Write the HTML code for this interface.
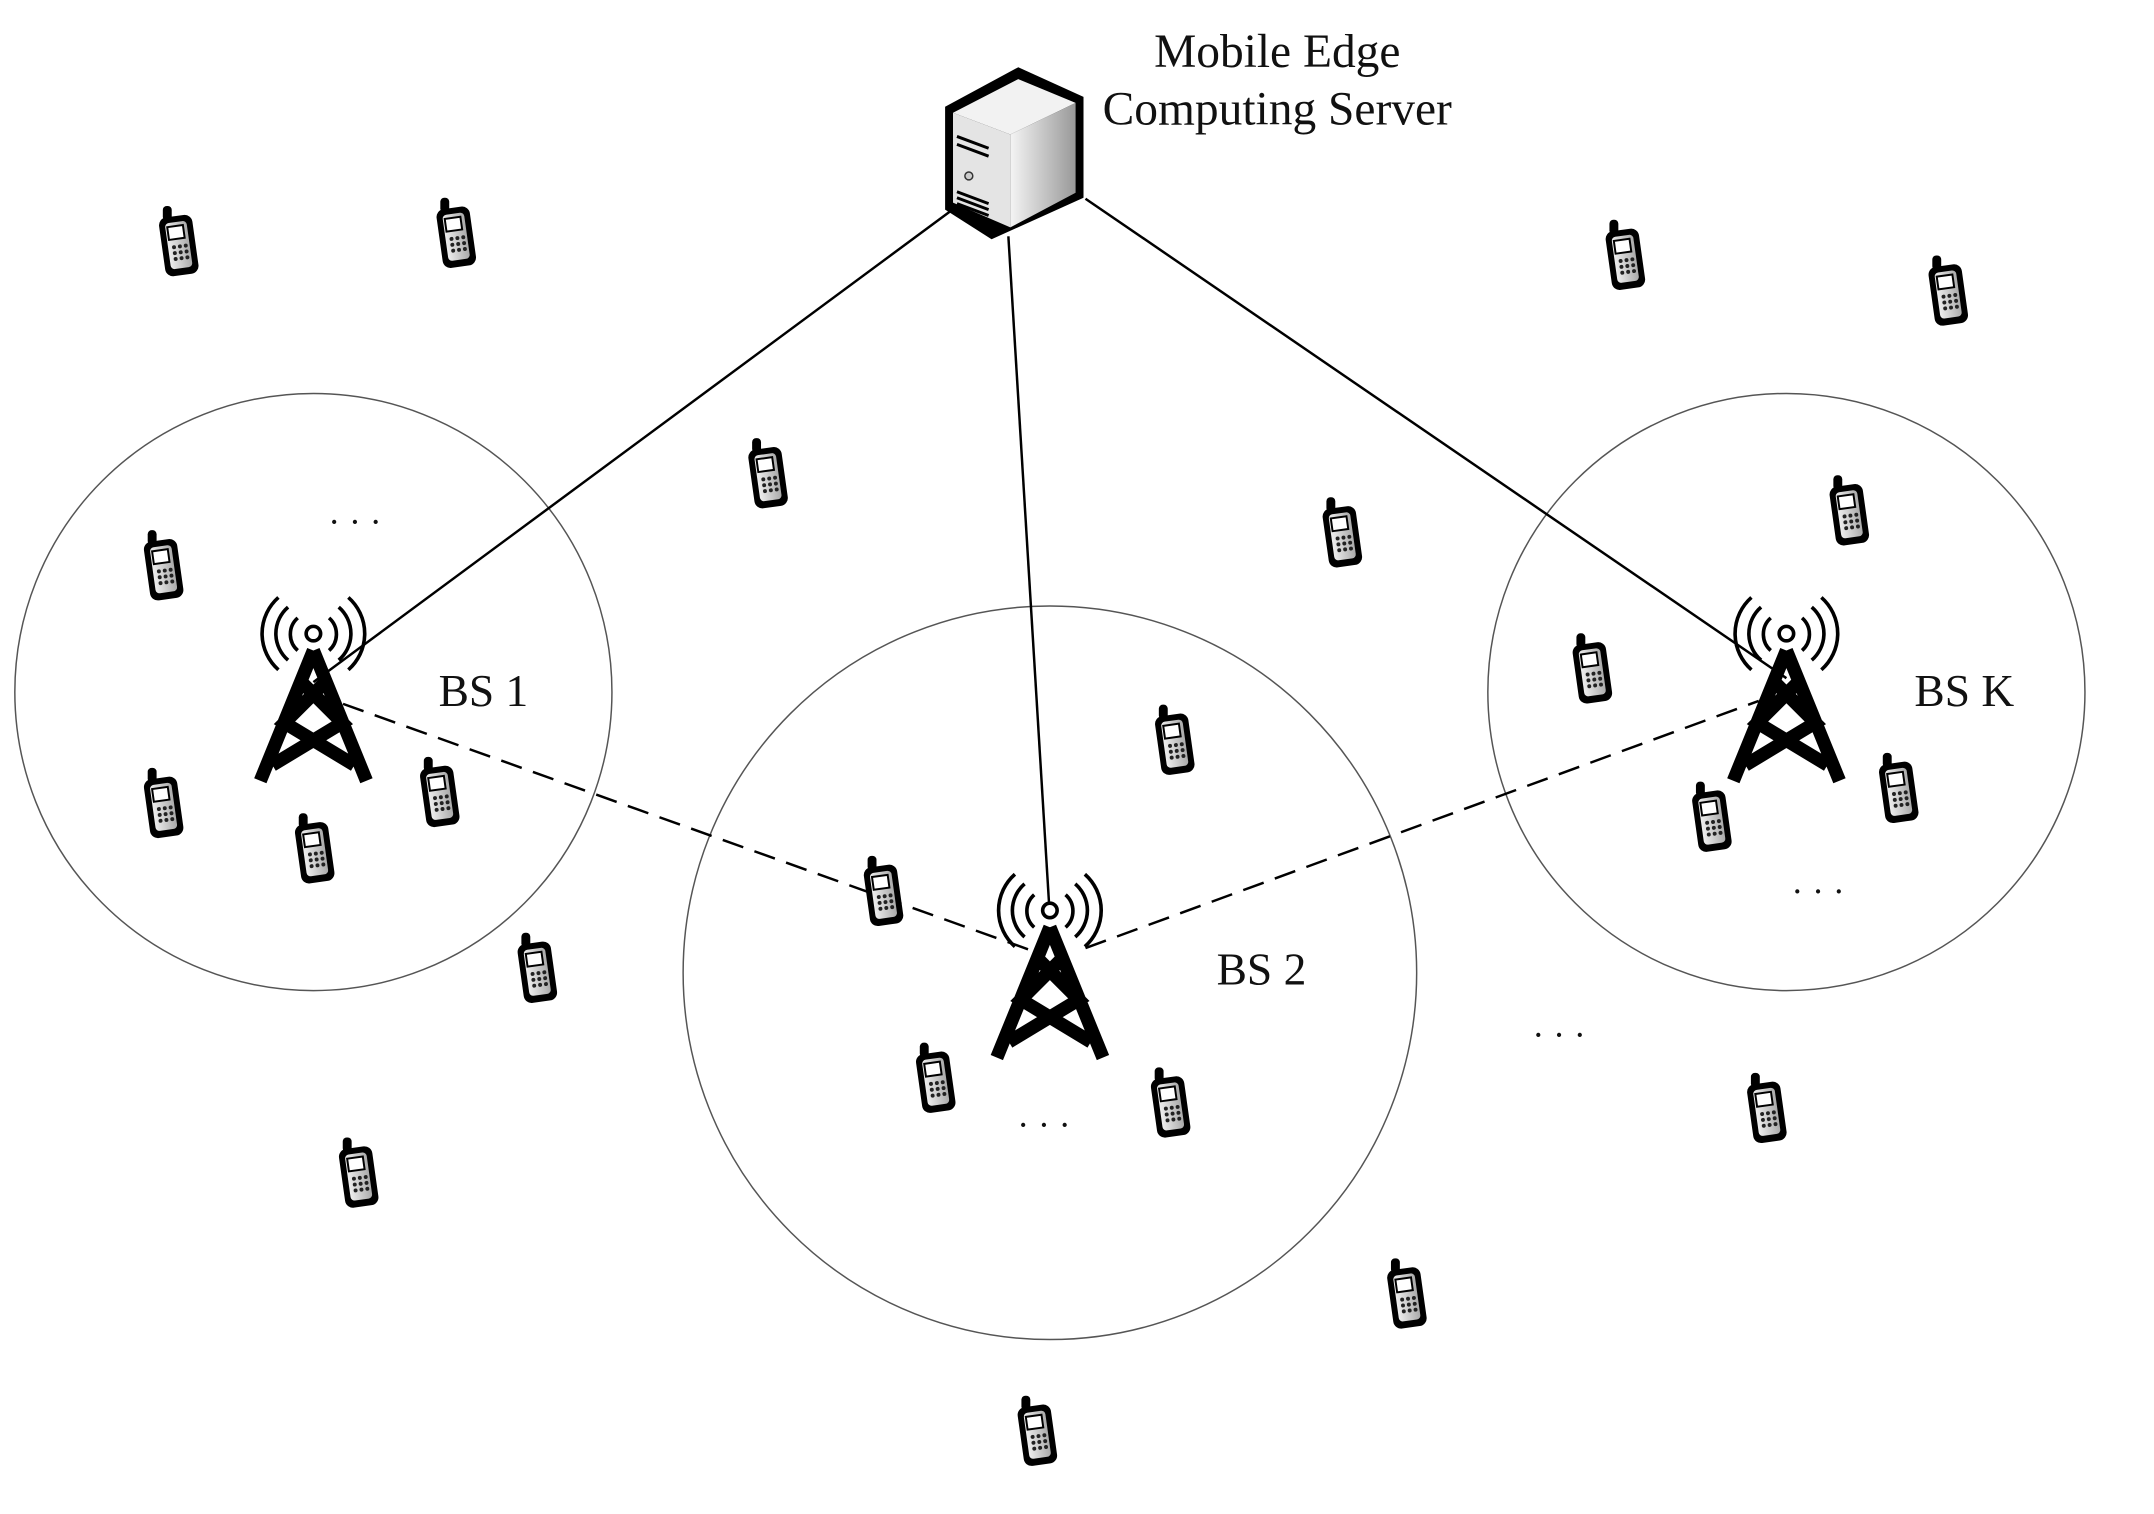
<!DOCTYPE html>
<html><head><meta charset="utf-8"><style>
html,body{margin:0;padding:0;background:#fff}
svg{display:block}
text{font-family:"Liberation Serif",serif;fill:#111}
</style></head><body>
<svg width="2154" height="1514" viewBox="0 0 2154 1514">
<defs>
<linearGradient id="pg" x1="0" x2="1"><stop offset="0" stop-color="#eee"/><stop offset="1" stop-color="#aaa"/></linearGradient>
<linearGradient id="sg" x1="0" x2="1"><stop offset="0" stop-color="#f4f4f4"/><stop offset="1" stop-color="#999"/></linearGradient>
<g id="phone">
<rect x="-16" y="-39" width="9" height="15" rx="4" fill="#000"/>
<rect x="-17" y="-29" width="34" height="60" rx="8" fill="#000" transform="rotate(-8)"/>
<rect x="-11" y="-23" width="22" height="47" rx="4" fill="url(#pg)" transform="rotate(-8)"/>
<rect x="-9" y="-19" width="16" height="13" fill="#fff" stroke="#000" stroke-width="2" transform="rotate(-8)"/>
<g fill="#222" transform="rotate(-8)">
<circle cx="-5" cy="2" r="2"/><circle cx="1" cy="2" r="2"/><circle cx="7" cy="2" r="2"/>
<circle cx="-5" cy="8" r="2"/><circle cx="1" cy="8" r="2"/><circle cx="7" cy="8" r="2"/>
<circle cx="-5" cy="14" r="2"/><circle cx="1" cy="14" r="2"/><circle cx="7" cy="14" r="2"/>
</g>
</g>
<g id="tower" transform="scale(1.22)">
<path d="M0,0 L-44,108 M0,0 L44,108 M-11,25 L24,60 L-34,95 M11,25 L-24,60 L34,95" stroke="#000" stroke-width="11" fill="none" stroke-linejoin="miter"/>
<circle cx="0" cy="-14" r="6" fill="#fff" stroke="#000" stroke-width="3"/>
<g fill="none" stroke="#000" stroke-width="3">
<path d="M-13,-27 A18,18 0 0 0 -13,0"/><path d="M13,-27 A18,18 0 0 1 13,0"/>
<path d="M-21,-36 A29,29 0 0 0 -21,8"/><path d="M21,-36 A29,29 0 0 1 21,8"/>
<path d="M-29,-44 A40,40 0 0 0 -29,16"/><path d="M29,-44 A40,40 0 0 1 29,16"/>
</g>
</g>
</defs>
<g transform="scale(0.9886)">
<g fill="none" stroke="#555" stroke-width="1.5">
<circle cx="317" cy="700" r="302"/>
<circle cx="1062" cy="984" r="371"/>
<circle cx="1807" cy="700" r="302"/>
</g>

<g stroke="#000" stroke-width="2.5">
<line x1="969" y1="208" x2="317" y2="690"/>
<line x1="1020" y1="239" x2="1062" y2="928"/>
<line x1="1098" y1="201" x2="1807" y2="686"/>
</g>
<g stroke="#000" stroke-width="2.5" stroke-dasharray="22,12">
<line x1="347" y1="712" x2="1056" y2="966"/>
<line x1="1098" y1="959" x2="1779" y2="709"/>
</g>

<use href="#tower" x="317" y="658"/>
<use href="#tower" x="1062" y="938"/>
<use href="#tower" x="1807" y="658"/>

<g>
<path d="M1030,68 L1096,98 L1096,200 L1003,242 L956,212 L956,108 Z" fill="#000"/>
<path d="M964,114 L1030,80 L1088,104 L1022,136 Z" fill="#f2f2f2"/>
<path d="M1022,136 L1088,104 L1088,195 L1022,230 Z" fill="url(#sg)"/>
<path d="M964,114 L1022,136 L1022,230 L964,205 Z" fill="#e4e4e4"/>
<path d="M968,138 L1000,150 M968,146 L1000,158 M968,200 L1000,212 M968,206 L1000,218 M968,194 L1000,206" stroke="#000" stroke-width="3"/>
<circle cx="980" cy="178" r="4" fill="#ccc" stroke="#333" stroke-width="1.5"/>
</g>

<g font-size="48" text-anchor="middle">
<text x="1292" y="68">Mobile Edge</text>
<text x="1292" y="126">Computing Server</text>
<text x="489" y="714" font-size="46">BS 1</text>
<text x="1276" y="996" font-size="46">BS 2</text>
<text x="1987" y="714" font-size="46">BS K</text>
<text x="359" y="540" font-size="36">· · ·</text>
<text x="1839" y="914" font-size="36">· · ·</text>
<text x="1577" y="1059" font-size="36">· · ·</text>
<text x="1056" y="1150" font-size="36">· · ·</text>
</g>

<g id="phones"></g>
</g>
<script>
const phoneX=[130,332,1183,1418,559,977,1346,119,1159,855,1382,1246,119,320,229,643,391,681,852,1286,261,1024,755];
const phoneY=[178,172,188,214,347,390,374,414,489,541,576,597,587,579,620,651,707,787,805,809,856,944,1044];
const S=2154/1550;
const g=document.getElementById('phones');
phoneX.forEach((px,i)=>{
  const u=document.createElementNS('http://www.w3.org/2000/svg','use');
  u.setAttribute('href','#phone');
  u.setAttribute('x',(px*S).toFixed(1));
  u.setAttribute('y',(phoneY[i]*S).toFixed(1));
  
  
  g.appendChild(u);
});
</script>
</svg>
</body></html>
